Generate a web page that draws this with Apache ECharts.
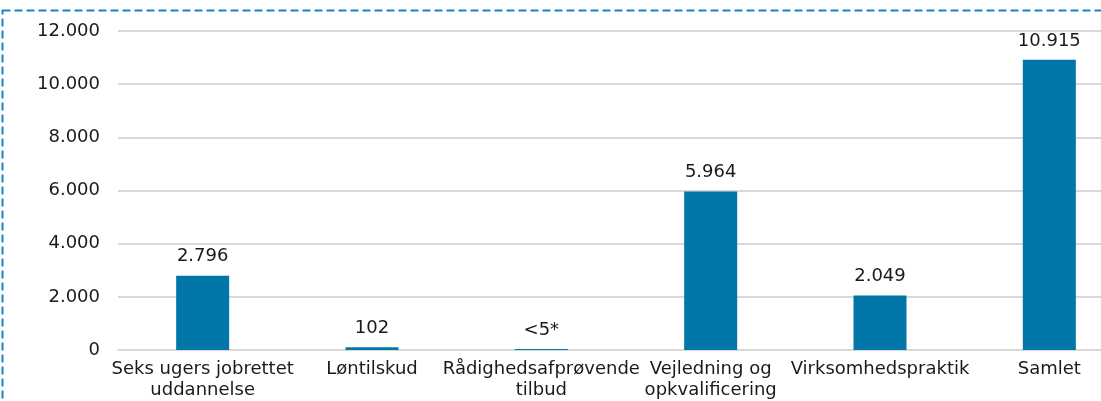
<!DOCTYPE html>
<html>
<head>
<meta charset="utf-8">
<script src="https://cdn.jsdelivr.net/npm/echarts@6/dist/echarts.min.js"></script>
<style>
  html, body { margin: 0; padding: 0; background: #fff; overflow: hidden; }
  #chart { width: 1134px; height: 401px; }
</style>
</head>
<body>
<div id="chart"></div>
<script>
  // data
  const categories = [
    'Seks ugers jobrettet\nuddannelse',
    'Løntilskud',
    'Rådighedsafprøvende\ntilbud',
    'Vejledning og\nopkvalificering',
    'Virksomhedspraktik',
    'Samlet'
  ]
  const values = [2796, 102, 4, 5964, 2049, 10915]
  const valueLabels = ['2.796', '102', '<5*', '5.964', '2.049', '10.915']
  const yTicks = [0, 2000, 4000, 6000, 8000, 10000, 12000]

  const fmt = v => String(v).replace(/\B(?=(\d{3})+(?!\d))/g, '.')

  const chart = echarts.init(document.getElementById('chart'))
  const option = {
    animation: false,
    textStyle: { fontFamily: 'DejaVu Sans' },
    graphic: [{
      type: 'rect',
      shape: { x: 2.5, y: 10.5, width: 1200, height: 500 },
      style: { fill: 'none', stroke: '#1a86b8', lineWidth: 2, lineDash: [8, 4] },
      silent: true
    }],
    grid: { left: 118, right: 0, top: 31, bottom: 51, containLabel: false },
    xAxis: {
      type: 'category',
      data: categories,
      axisLine: { lineStyle: { color: '#d9d9d9', width: 2 } },
      axisTick: { show: false },
      axisLabel: { color: '#1a1a1a', fontSize: 18, lineHeight: 21, margin: 9, interval: 0 }
    },
    yAxis: {
      type: 'value',
      min: yTicks[0],
      max: yTicks[yTicks.length - 1],
      interval: 2000,
      axisLine: { show: false },
      axisTick: { show: false },
      splitLine: { lineStyle: { color: '#d9d9d9', width: 2 } },
      axisLabel: { color: '#1a1a1a', fontSize: 18, margin: 18, formatter: v => fmt(v) }
    },
    series: [{
      type: 'bar',
      data: values,
      barWidth: 53,
      barMinHeight: 1,
      itemStyle: { color: '#0077a8' },
      label: {
        show: true,
        position: 'top',
        distance: 10,
        color: '#1a1a1a',
        fontSize: 18,
        formatter: p => valueLabels[p.dataIndex]
      }
    }]
  }
  chart.setOption(option)
</script>
</body>
</html>
